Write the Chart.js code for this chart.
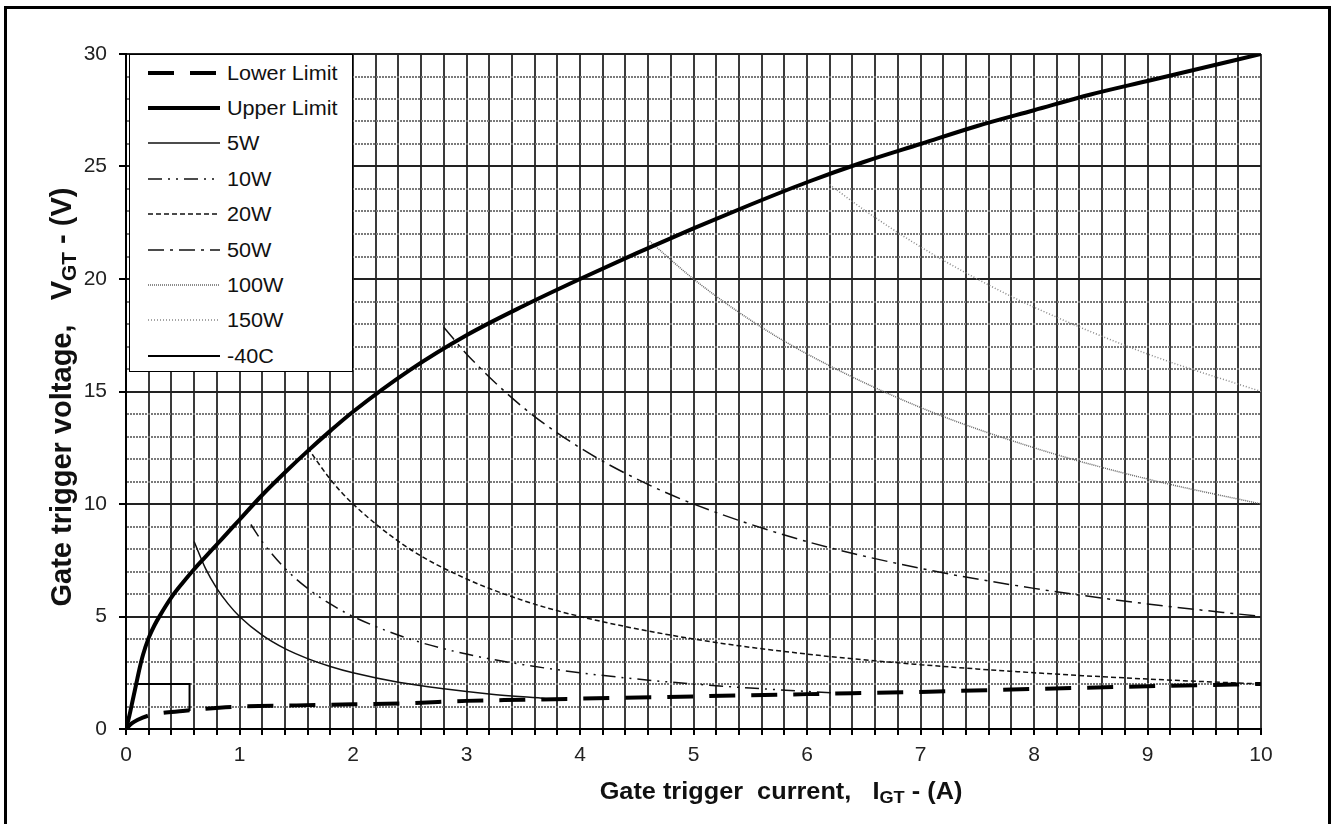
<!DOCTYPE html>
<html>
<head>
<meta charset="utf-8">
<title>Gate trigger characteristics</title>
<script src="https://cdn.jsdelivr.net/npm/chart.js@4.4.1/dist/chart.umd.min.js"></script>
<style>
  html, body { margin: 0; padding: 0; background: #fff; }
  body {
    width: 1335px; height: 824px; overflow: hidden; position: relative;
    font-family: "Liberation Sans", Arial, sans-serif; color: #111;
  }
  #gateChart { position: absolute; left: 0; top: 0; }
  .frame {
    position: absolute; left: 4px; top: 6px; width: 1327px; height: 860px;
    border: 3px solid #000; box-sizing: border-box; pointer-events: none;
  }
  .legend-box {
    position: absolute; left: 129px; top: 54px; width: 224px; height: 318px;
    border: 1.5px solid #000; background: #fff; box-sizing: border-box;
  }
  .legend-row { position: absolute; left: 0; height: 24px; width: 220px; }
  .legend-row svg { position: absolute; left: 18px; top: 7px; }
  .legend-row span {
    position: absolute; left: 97px; top: 0; line-height: 24px;
    font-size: 20px; white-space: nowrap; transform-origin: left center;
    transform: scaleX(1.08);
  }
  .x-title {
    position: absolute; left: 781px; top: 791px; white-space: pre;
    font-weight: bold; font-size: 23px;
    transform: translate(-50%, -50%) scaleX(1.1);
  }
  .y-title {
    position: absolute; left: 61px; top: 397px; white-space: pre;
    font-weight: bold; font-size: 29px;
    transform: translate(-50%, -50%) rotate(-90deg);
  }
  .sub { font-size: 0.72em; position: relative; top: 0.25em; }
</style>
</head>
<body>
<canvas id="gateChart" width="1335" height="824"></canvas>
<div class="legend-box" id="legendBox"></div>
<div class="x-title">Gate trigger  current,   I<span class="sub">GT</span> - (A)</div>
<div class="y-title">Gate trigger voltage,   V<span class="sub">GT</span> - (V)</div>
<div class="frame"></div>

<script>
// Axis ranges / ticks
const xMin = 0, xMax = 10, xStep = 0.2;
const yMin = 0, yMax = 30, yStep = 1, yMajor = 5;

// Lower / upper gate trigger limits (I in A, V in V)
const lowerI = [0, 0.05, 0.1, 0.2, 0.3, 0.5, 0.7, 1.0, 1.5, 2.0, 2.5, 3.0, 3.5, 4.0, 5.0, 6.0, 7.0, 8.0, 9.0, 10];
const lowerV = [0, 0.25, 0.4, 0.6, 0.7, 0.8, 0.9, 1.0, 1.05, 1.1, 1.15, 1.25, 1.3, 1.35, 1.45, 1.55, 1.65, 1.78, 1.9, 2.0];

const upperI = [0, 0.03, 0.06, 0.09, 0.12, 0.15, 0.2, 0.25, 0.3, 0.4, 0.5, 0.6, 0.7, 0.8, 0.9, 1.0, 1.2, 1.4, 1.6, 1.8, 2.0, 2.5, 3.0, 3.5, 4.0, 4.5, 5.0, 5.5, 6.0, 6.5, 7.0, 7.5, 8.0, 8.5, 9.0, 9.5, 10];
const upperV = [0, 0.6, 1.3, 2.0, 2.7, 3.3, 4.05, 4.6, 5.05, 5.85, 6.5, 7.1, 7.65, 8.2, 8.75, 9.3, 10.4, 11.4, 12.35, 13.25, 14.1, 15.95, 17.5, 18.8, 20.0, 21.15, 22.25, 23.3, 24.3, 25.2, 26.0, 26.8, 27.5, 28.2, 28.8, 29.4, 30.0];

// Constant gate power curves
const w5I = [0.6, 0.7, 0.8, 0.9, 1.0, 1.2, 1.4, 1.6, 1.8, 2.0, 2.4, 2.8, 3.2, 3.7];
const w5V = [8.33, 7.14, 6.25, 5.56, 5.0, 4.17, 3.57, 3.13, 2.78, 2.5, 2.08, 1.79, 1.56, 1.35];

const w10I = [1.1, 1.2, 1.4, 1.6, 1.8, 2.0, 2.5, 3.0, 3.5, 4.0, 4.5, 5.0, 5.5, 6.0, 6.4];
const w10V = [9.09, 8.33, 7.14, 6.25, 5.56, 5.0, 4.0, 3.33, 2.86, 2.5, 2.22, 2.0, 1.82, 1.67, 1.56];

const w20I = [1.6, 1.8, 2.0, 2.5, 3.0, 3.5, 4.0, 5.0, 6.0, 7.0, 8.0, 9.0, 10];
const w20V = [12.5, 11.1, 10.0, 8.0, 6.67, 5.71, 5.0, 4.0, 3.33, 2.86, 2.5, 2.22, 2.0];

const w50I = [2.8, 3.0, 3.5, 4.0, 4.5, 5.0, 6.0, 7.0, 8.0, 9.0, 10];
const w50V = [17.86, 16.67, 14.29, 12.5, 11.11, 10.0, 8.33, 7.14, 6.25, 5.56, 5.0];

const w100I = [4.6, 5.0, 5.5, 6.0, 7.0, 8.0, 9.0, 10];
const w100V = [21.74, 20.0, 18.18, 16.67, 14.29, 12.5, 11.11, 10.0];

const w150I = [6.2, 6.5, 7.0, 7.5, 8.0, 9.0, 10];
const w150V = [24.19, 23.08, 21.43, 20.0, 18.75, 16.67, 15.0];

// -40C trigger box
const coldI = [0.09, 0.56, 0.56];
const coldV = [2.0, 2.0, 0.8];

const toPoints = (xs, ys) => xs.map((x, i) => ({ x, y: ys[i] }));

const isMajorY = (v) => Math.abs(v % yMajor) < 1e-6;

const datasets = [
  { label: "Lower Limit", data: toPoints(lowerI, lowerV), borderColor: "#000", borderWidth: 4, borderDash: [26, 16] },
  { label: "Upper Limit", data: toPoints(upperI, upperV), borderColor: "#000", borderWidth: 4, borderDash: [] },
  { label: "5W", data: toPoints(w5I, w5V), borderColor: "#111", borderWidth: 1.5, borderDash: [] },
  { label: "10W", data: toPoints(w10I, w10V), borderColor: "#111", borderWidth: 1.5, borderDash: [14, 6, 2, 6, 2, 6] },
  { label: "20W", data: toPoints(w20I, w20V), borderColor: "#111", borderWidth: 1.5, borderDash: [5, 3] },
  { label: "50W", data: toPoints(w50I, w50V), borderColor: "#111", borderWidth: 1.5, borderDash: [16, 6, 3, 6] },
  { label: "100W", data: toPoints(w100I, w100V), borderColor: "#666", borderWidth: 1.5, borderDash: [1, 1] },
  { label: "150W", data: toPoints(w150I, w150V), borderColor: "#888", borderWidth: 1.5, borderDash: [1, 2] },
  { label: "-40C", data: toPoints(coldI, coldV), borderColor: "#000", borderWidth: 2, borderDash: [], tension: 0, cubicInterpolationMode: "default" },
].map((ds) => ({
  showLine: true,
  fill: false,
  pointRadius: 0,
  pointHoverRadius: 0,
  cubicInterpolationMode: "monotone",
  ...ds,
}));

// Build the legend box from the chart datasets
const buildLegend = (chart) => {
  const box = document.getElementById("legendBox");
  box.innerHTML = chart.data.datasets
    .map(
      (ds, index) => `
        <div class="legend-row" style="top:${5.5 + index * 35.4}px">
          <svg width="72" height="10">
            <line x1="0" y1="5" x2="72" y2="5" stroke="${ds.borderColor}"
              stroke-width="${ds.borderWidth}" stroke-dasharray="${(ds.borderDash || []).join(" ")}"/>
          </svg>
          <span>${ds.label}</span>
        </div>`
    )
    .join("");
};

const ctx = document.getElementById("gateChart").getContext("2d");
const gateChart = new Chart(ctx, {
  type: "scatter",
  data: { datasets },
  options: {
    responsive: false,
    animation: false,
    devicePixelRatio: 1,
    layout: { padding: { left: 0, top: 54, right: 74, bottom: 0 } },
    plugins: {
      legend: { display: false },
      tooltip: { enabled: false },
    },
    scales: {
      x: {
        type: "linear",
        min: xMin,
        max: xMax,
        afterFit: (scale) => { scale.height = 95; },
        ticks: {
          stepSize: xStep,
          autoSkip: false,
          maxRotation: 0,
          padding: 8,
          color: "#222",
          font: { family: "'Liberation Sans', Arial", size: 21 },
          callback: (v) => (Math.abs(v - Math.round(v)) < 1e-6 ? String(Math.round(v)) : ""),
        },
        grid: {
          color: "#3a3a3a",
          lineWidth: 2,
          tickLength: 6,
          tickColor: "#000",
          tickWidth: 2,
        },
        border: { color: "#000", width: 2 },
      },
      y: {
        type: "linear",
        min: yMin,
        max: yMax,
        afterFit: (scale) => { scale.width = 126; },
        ticks: {
          stepSize: yStep,
          autoSkip: false,
          padding: 12,
          color: "#222",
          font: { family: "'Liberation Sans', Arial", size: 21 },
          callback: (v) => (isMajorY(v) ? String(v) : ""),
        },
        grid: {
          color: (c) => (c.tick && !isMajorY(c.tick.value) ? "#7a7a7a" : "#222"),
          lineWidth: 2,
          tickLength: 7,
          tickWidth: 2,
          tickColor: (c) => (c.tick && !isMajorY(c.tick.value) ? "rgba(0,0,0,0)" : "#000"),
        },
        border: {
          color: "#000",
          width: 2,
          dash: (c) => (c.tick && !isMajorY(c.tick.value) ? [2, 1] : []),
        },
      },
    },
  },
});

buildLegend(gateChart);
</script>
</body>
</html>
